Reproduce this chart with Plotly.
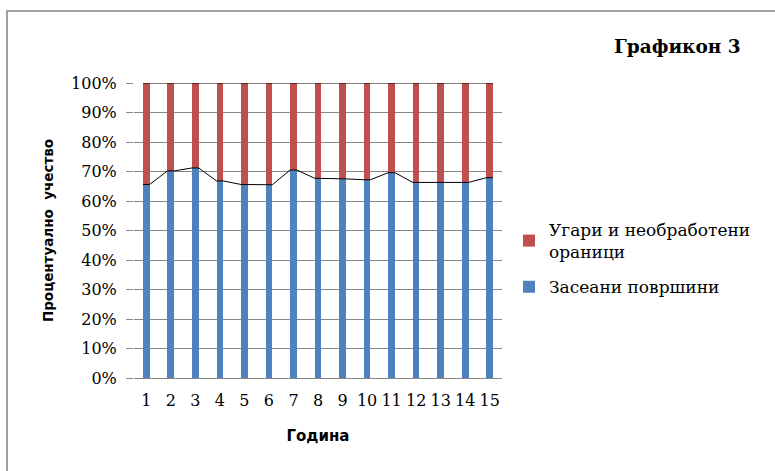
import plotly.graph_objects as go

years = list(range(1, 16))
tick_labels = [str(y) for y in years]
sown = [65.6, 70.2, 71.2, 66.8, 65.6, 65.5, 70.5, 67.7, 67.5, 67.2, 69.6, 66.3, 66.3, 66.3, 67.9]
fallow = [100 - v for v in sown]
totals = [s + f for s, f in zip(sown, fallow)]

name_sown = "Засеани површини"
name_fallow = "Угари и необработени<br>ораници"
title_text = "Графикон 3"
x_title = "Година"
y_title = "Процентуално  учество"

BLUE = "#4F81BD"
RED = "#C0504D"
bar_w = 0.27
hw = bar_w / 2

fig = go.Figure()
fig.add_trace(go.Bar(x=years, y=sown, name=name_sown, marker_color=BLUE, width=bar_w,
                     marker_line_width=0, legendgroup="sown", legendrank=2))
fig.add_trace(go.Bar(x=years, y=fallow, name=name_fallow, marker_color=RED, width=bar_w,
                     marker_line_width=0, legendgroup="fallow", legendrank=1))

# series lines (connect bar tops)
def series_line(vals):
    xs, ys = [], []
    for x, v in zip(years, vals):
        xs += [x - hw, x + hw]
        ys += [v, v]
    return xs, ys

for vals in (sown, totals):
    xs, ys = series_line(vals)
    fig.add_trace(go.Scatter(x=xs, y=ys, mode="lines", line=dict(color="black", width=1),
                             showlegend=False, hoverinfo="skip"))

serif = "DejaVu Serif"
sans = "DejaVu Sans"
L, R, T, B = 134, 273, 83, 93
PW = 775 - L - R
PH = 471 - T - B

def px(x):
    return (x - L) / PW

def py(y):
    return (471 - B - y) / PH

fig.update_layout(
    barmode="stack",
    width=775, height=471,
    margin=dict(l=L, r=R, t=T, b=B),
    paper_bgcolor="white", plot_bgcolor="white",
    showlegend=True,
    legend=dict(traceorder="grouped", x=px(509), xanchor="left", y=py(212), yanchor="top",
                font=dict(family=serif, size=17, color="black"), itemwidth=30,
                tracegroupgap=10, bgcolor="rgba(0,0,0,0)"),
    xaxis=dict(range=[0.5, 15.5], tickmode="array", tickvals=years, ticktext=tick_labels,
               showgrid=False, showline=True, linecolor="#868686", linewidth=1,
               ticks="", tickfont=dict(family=serif, size=16, color="black"),
               ticklabelstandoff=8,
               title=dict(text="<b>" + x_title + "</b>", font=dict(family=sans, size=15, color="black"),
                          standoff=21)),
    yaxis=dict(range=[0, 100], tickmode="array", tickvals=list(range(0, 101, 10)),
               ticktext=[f"{v}%" for v in range(0, 101, 10)],
               showgrid=True, gridcolor="#868686", gridwidth=1, zeroline=False,
               ticks="outside", ticklen=7, tickcolor="#868686",
               tickfont=dict(family=serif, size=16, color="black"),
               ticklabelstandoff=6,
               title=dict(text="<b>" + y_title + "</b>", font=dict(family=sans, size=13.5, color="black"),
                          standoff=14)),
    annotations=[dict(text="<b>" + title_text + "</b>", xref="paper", yref="paper",
                      x=px(677), y=py(47), xanchor="center", yanchor="middle",
                      showarrow=False, font=dict(family=serif, size=18.5, color="black"))],
    shapes=[dict(type="rect", xref="paper", yref="paper",
                 x0=px(7), x1=px(800), y0=py(490), y1=py(11),
                 line=dict(color="#A0A0A0", width=2), fillcolor="rgba(0,0,0,0)", layer="below")],
)

fig.write_html("out.html", config={"displayModeBar": False})
with open("out.html", encoding="utf-8") as f:
    html = f.read()
html = html.replace("<body>", '<body style="margin:0;padding:0;overflow:hidden">', 1)
with open("out.html", "w", encoding="utf-8") as f:
    f.write(html)
